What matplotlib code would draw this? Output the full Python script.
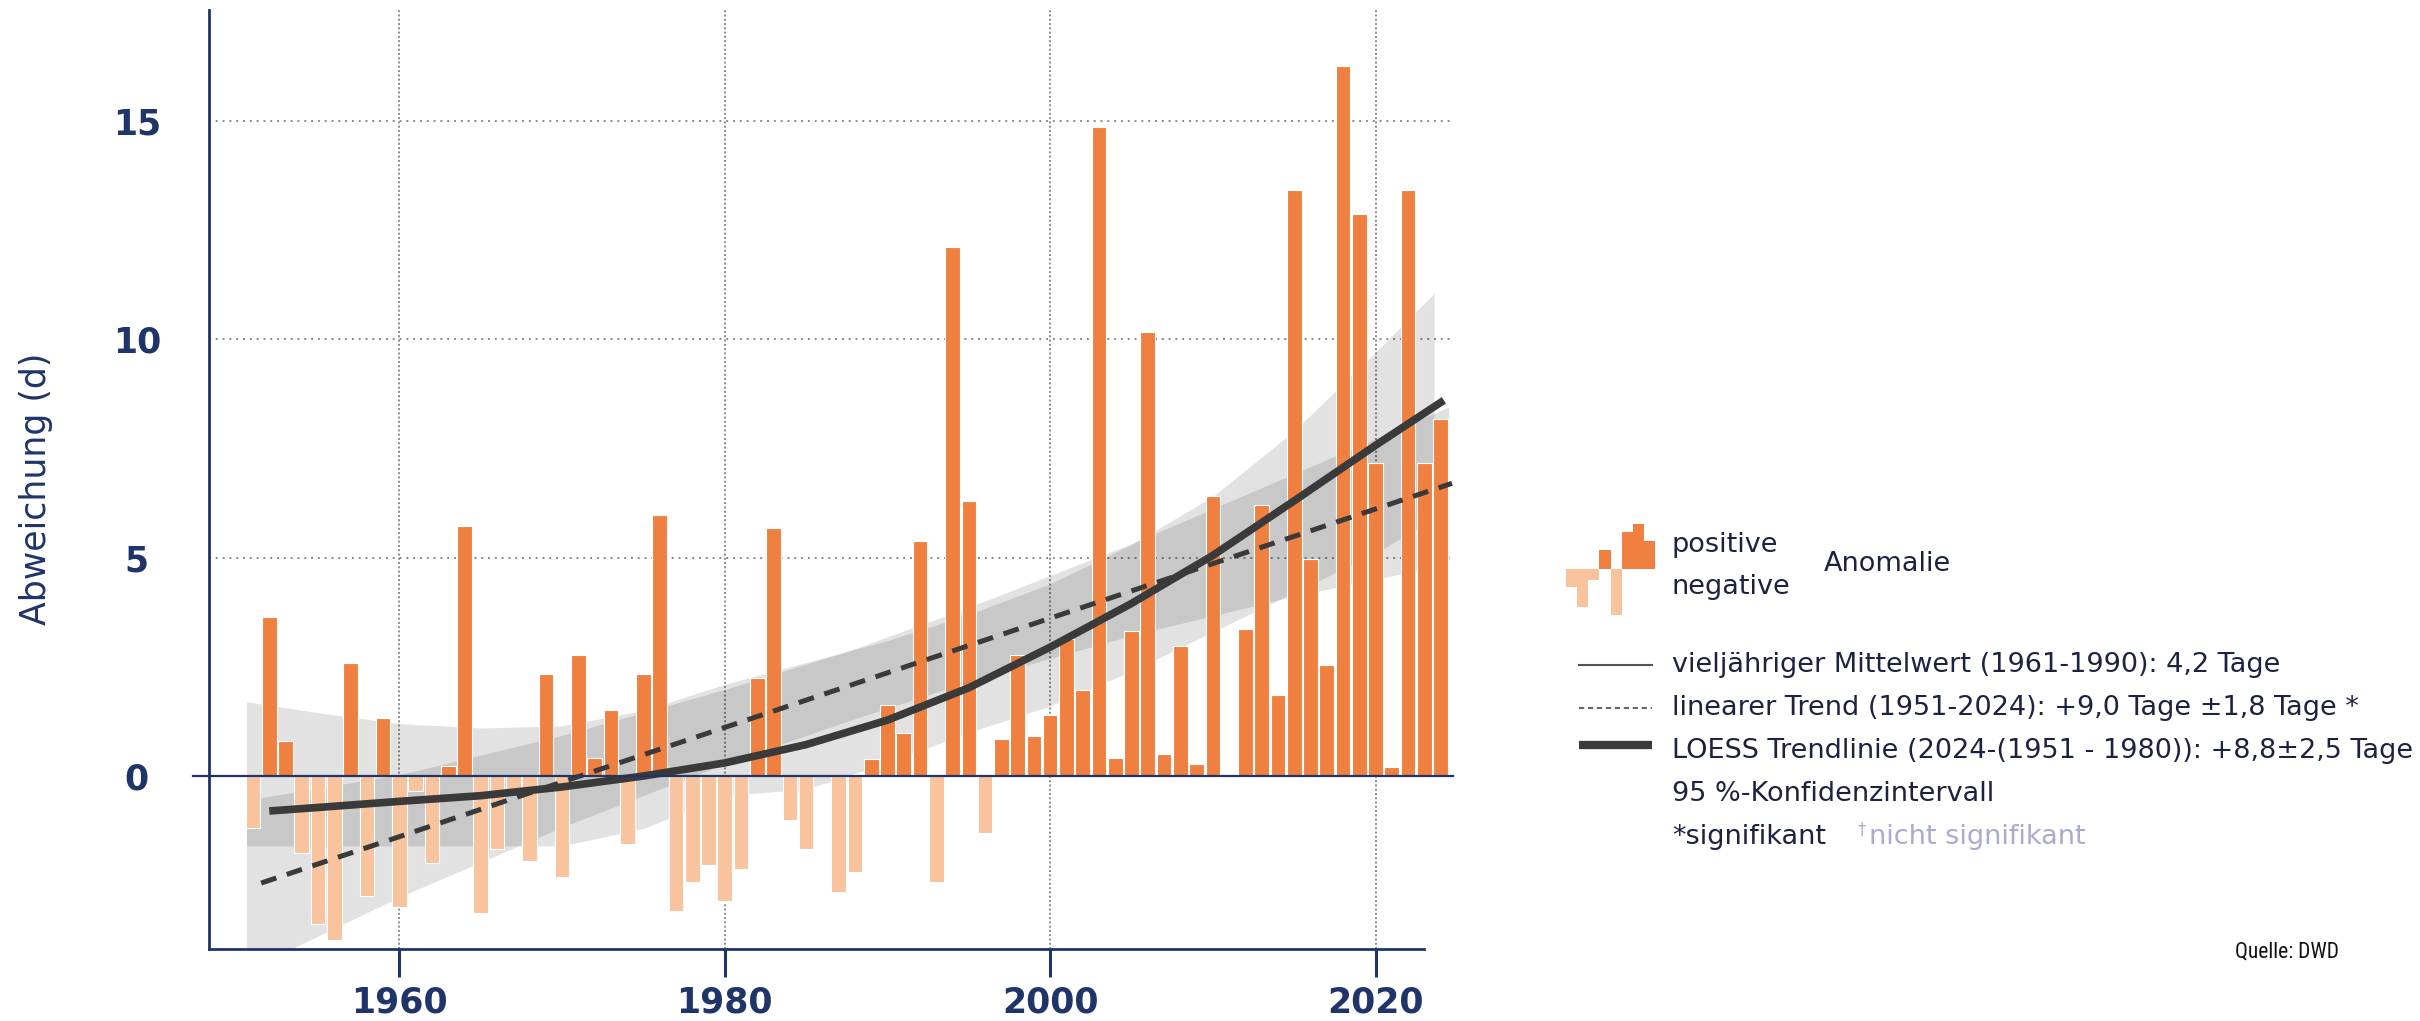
import matplotlib.pyplot as plt
from matplotlib import font_manager
import numpy as np

# Werte
years = list(range(1951, 2025))
anomaly = [
    -1.2, 3.65, 0.8, -1.77, -3.38, -3.76, 2.58, -2.75, 1.33, -3.0,      # 1951-1960
    -0.35, -2.0, 0.22, 5.73, -3.14, -1.68, -0.3, -1.94, 2.34, -2.32,    # 1961-1970
    2.78, 0.42, 1.52, -1.56, 2.34, 5.97, -3.1, -2.43, -2.04, -2.85,     # 1971-1980
    -2.13, 2.25, 5.68, -1.0, -1.68, 0.0, -2.66, -2.2, 0.38, 1.62,       # 1981-1990
    0.99, 5.38, -2.43, 12.11, 6.30, -1.30, 0.85, 2.78, 0.91, 1.39,      # 1991-2000
    3.13, 1.96, 14.85, 0.42, 3.32, 10.16, 0.51, 2.97, 0.28, 6.42,       # 2001-2010
    0.0, 3.36, 6.21, 1.86, 13.42, 4.96, 2.54, 16.26, 12.87, 7.17,       # 2011-2020
    0.2, 13.42, 7.17, 8.18,                                             # 2021-2024
]

# LOESS Trendlinie
loess_years = [1952, 1955, 1960, 1965, 1970, 1975, 1980, 1985, 1990, 1995,
               2000, 2005, 2010, 2015, 2020, 2024.2]
loess_vals = [-0.80, -0.72, -0.58, -0.45, -0.25, 0.0, 0.3, 0.72, 1.28, 2.02,
              2.95, 3.95, 5.05, 6.3, 7.57, 8.6]

# linearer Trend
trend_years = [1951.5, 2024.7]
trend_vals = [-2.45, 6.7]

# Konfidenzbaender
band_years = [1950.6, 1955, 1960, 1965, 1970, 1975, 1980, 1985, 1990, 1995,
              2000, 2005, 2010, 2015, 2020, 2023.6]
loess_lower = [-1.6, -1.6, -1.6, -1.6, -1.6, -1.2, -0.45, -0.3, 0.3, 1.0,
               1.6, 2.4, 3.3, 4.2, 5.1, 5.9]
loess_upper = [1.7, 1.45, 1.2, 1.1, 1.15, 1.5, 2.1, 2.6, 3.1, 3.7,
               4.4, 5.3, 6.4, 7.9, 9.7, 11.05]
lin_years = [1950.6, 1960, 1970, 1980, 1987.5, 1995, 2005, 2015, 2024.5]
lin_lower = [-4.45, -2.77, -1.17, 0.28, 1.25, 2.16, 3.22, 4.12, 4.85]
lin_upper = [-0.55, 0.03, 0.93, 1.98, 2.85, 3.86, 5.32, 6.92, 8.45]

xticks = [1960, 1980, 2000, 2020]
yticks = [0, 5, 10, 15]

# kleines Balken-Symbol fuer die Legende
icon_vals = [-1.8, -3.8, -1.1, 1.9, -4.6, 3.7, 4.5, 2.8]

# Stil
POS_COLOR = '#EF8040'
NEG_COLOR = '#F9C39D'
NAVY = '#1f3468'
LINE_DARK = '#3a3a3a'
TEXT_COLOR = '#1c2340'
FS = 19.5


def pick_narrow_font():
    """schmale Schrift fuer die Quellenangabe suchen"""
    fonts = font_manager.fontManager.ttflist
    names = {f.name for f in fonts}
    for n in ['Liberation Sans Narrow', 'Arial Narrow', 'Roboto Condensed',
              'Open Sans Condensed', 'DejaVu Sans Condensed',
              'Noto Sans Condensed']:
        if n in names:
            return font_manager.FontProperties(family=n)
    for f in fonts:
        if 'condensed' in str(f.stretch) and f.style == 'normal' \
                and f.weight in (400, 'normal', 'regular'):
            return font_manager.FontProperties(fname=f.fname)
    return font_manager.FontProperties(family='Liberation Sans')


def draw():
    fig = plt.figure(figsize=(24.2, 10.21), dpi=100)
    ax = fig.add_axes([0.0864, 0.0705, 0.514, 0.9195])

    # Baender (Ueberlappung wird dunkler)
    ax.fill_between(band_years, loess_lower, loess_upper, color='black',
                    alpha=0.115, linewidth=0, zorder=1)
    ax.fill_between(lin_years, lin_lower, lin_upper, color='black',
                    alpha=0.115, linewidth=0, zorder=1)

    # Balken
    colors = [POS_COLOR if v >= 0 else NEG_COLOR for v in anomaly]
    ax.bar(years, anomaly, width=0.9, color=colors, edgecolor='white',
           linewidth=0.8, zorder=3)

    # Trendlinien
    ax.plot(trend_years, trend_vals, color=LINE_DARK, linewidth=3.6,
            linestyle=(0, (3.2, 2.2)), zorder=4)
    ax.plot(loess_years, loess_vals, color=LINE_DARK, linewidth=5.5,
            solid_capstyle='butt', solid_joinstyle='round', zorder=5)

    # Nulllinie
    ax.axhline(0, xmin=-0.013, xmax=1, color=NAVY, linewidth=1.6,
               clip_on=False, zorder=6)

    ax.set_xlim(1948.3, 2024.76)
    ax.set_ylim(-3.96, 17.53)

    # Gitter
    for yy in yticks[1:]:
        ax.axhline(yy, color='#8a8a8a', linewidth=1.4,
                   linestyle=(0, (1, 2.5)), zorder=0)
    for xx in xticks:
        ax.axvline(xx, color='#8a8a8a', linewidth=1.4,
                   linestyle=(0, (1, 1.2)), zorder=0)

    for side in ['top', 'right']:
        ax.spines[side].set_visible(False)
    ax.spines['left'].set_color(NAVY)
    ax.spines['left'].set_linewidth(2)
    ax.spines['bottom'].set_color(NAVY)
    ax.spines['bottom'].set_linewidth(2)
    ax.spines['bottom'].set_bounds(1948.3, 2023.0)

    ax.set_xticks(xticks)
    ax.set_yticks(yticks)
    ax.tick_params(axis='x', length=20, width=2.2, color=NAVY, pad=6,
                   labelsize=25, labelcolor=NAVY)
    ax.tick_params(axis='y', length=0, pad=52, labelsize=25, labelcolor=NAVY)
    for lbl in ax.get_yticklabels():
        lbl.set_horizontalalignment('center')
    for lbl in ax.get_xticklabels() + ax.get_yticklabels():
        lbl.set_fontweight('bold')

    ax.set_ylabel('Abweichung (d)', fontsize=25, color=NAVY)
    ax.yaxis.set_label_coords(-0.1254, 0.49)

    # Legende: Balken-Symbol
    iax = fig.add_axes([0.647, 0.3977, 0.037, 0.0891])
    icon_x = np.arange(len(icon_vals))
    icon_colors = [POS_COLOR if v >= 0 else NEG_COLOR for v in icon_vals]
    iax.bar(icon_x, icon_vals, width=1.0, color=icon_colors, linewidth=0)
    iax.set_xlim(-0.5, len(icon_vals) - 0.5)
    iax.set_ylim(min(icon_vals), max(icon_vals))
    iax.axis('off')

    fig.text(0.6909, 0.4662, 'positive', fontsize=FS, color=TEXT_COLOR,
             va='center')
    fig.text(0.6909, 0.4251, 'negative', fontsize=FS, color=TEXT_COLOR,
             va='center')
    fig.text(0.7537, 0.4476, 'Anomalie', fontsize=FS, color=TEXT_COLOR,
             va='center')

    # Legende: Linien
    row_y = [1 - 665 / 1021, 1 - 708 / 1021, 1 - 751 / 1021,
             1 - 794 / 1021, 1 - 837 / 1021]
    lx = [0.6525, 0.6826]
    fig.add_artist(plt.Line2D(lx, [row_y[0]] * 2, color='#555555',
                              linewidth=1.5))
    fig.add_artist(plt.Line2D(lx, [row_y[1]] * 2, color='#666666',
                              linewidth=1.5, linestyle=(0, (2.5, 1.8))))
    fig.add_artist(plt.Line2D(lx, [row_y[2] + 0.006] * 2, color=LINE_DARK,
                              linewidth=6, solid_capstyle='butt'))

    labels = [
        'vieljähriger Mittelwert (1961-1990): 4,2 Tage',
        'linearer Trend (1951-2024): +9,0 Tage ±1,8 Tage *',
        'LOESS Trendlinie (2024-(1951 - 1980)): +8,8±2,5 Tage',
        '95 %-Konfidenzintervall',
        '*signifikant',
    ]
    for y, txt in zip(row_y, labels):
        fig.text(0.6909, y, txt, fontsize=FS, color=TEXT_COLOR, va='center')
    fig.text(0.7675, row_y[4] + 0.008, '†', fontsize=12, color='#a9abd0',
             va='center')
    fig.text(0.7725, row_y[4], 'nicht signifikant', fontsize=FS,
             color='#a9abd0', va='center')

    fig.text(0.945, 1 - 952 / 1021, 'Quelle: DWD',
             fontproperties=pick_narrow_font(), fontsize=15.5,
             color='#111111', ha='center', va='center')

    fig.savefig('out.png', dpi=100)


if __name__ == '__main__':
    draw()
